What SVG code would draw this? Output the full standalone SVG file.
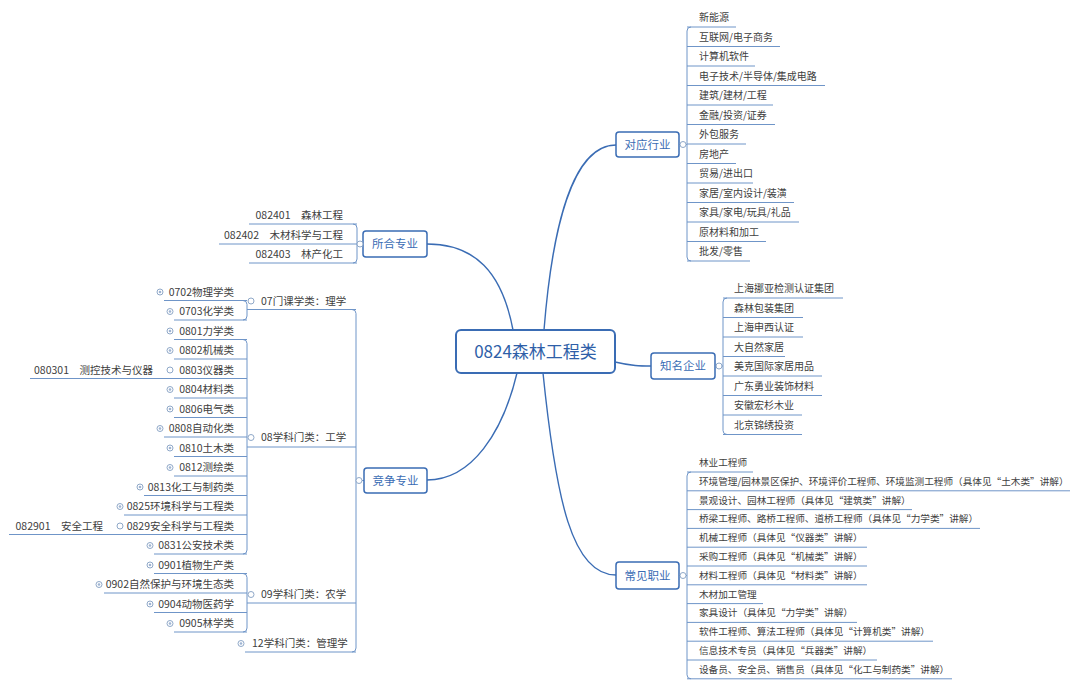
<svg xmlns="http://www.w3.org/2000/svg" width="1080" height="689" viewBox="0 0 1080 689">
<style>
text{font-family:"Microsoft YaHei","Noto Sans CJK SC","Noto Sans",sans-serif;fill:#404040}
.main{fill:none;stroke:#3a6cb4;stroke-width:1.4}
.br{fill:none;stroke:#6f95c8;stroke-width:1}
.box{fill:#fff;stroke:#3a6cb4;stroke-width:1.5}
.cbox{fill:#fff;stroke:#3a6cb4;stroke-width:2}
.bt{font-size:11.5px;fill:#3a6cb4;text-anchor:middle}
.ct{font-size:17px;fill:#2f5fa8;text-anchor:middle}
.r{font-size:10px}
.j{font-size:9.65px}
.l{font-size:10.5px;text-anchor:end}
.p{font-size:10.5px}
.h{fill:#fff;stroke:#8fa8c8;stroke-width:1}
.d{fill:#9fb4d2}
</style>
<defs>
<g id="plus"><circle class="h" r="3"/><circle class="d" r="1.3"/></g>
<g id="open"><circle class="h" r="3"/></g>
</defs>
<rect width="1080" height="689" fill="#fff"/>
<g id="connectors">
<path class="main" d="M427 244C475 244 502 272 513 330"/>
<path class="main" d="M544 330C552 230 572 145 616 145"/>
<path class="main" d="M615 362C632 366 640 366 651 366"/>
<path class="main" d="M517 373C503 432 472 480 427 480"/>
<path class="main" d="M543 373C556 500 572 575 616 575"/>
<path class="br" d="M679 144.5H687M691 27Q687 27 687 31V257Q687 261 691 261"/>
<path class="br" d="M687 27H736M687 46.5H780M687 66H755M687 85.5H825M687 105H773M687 124.5H775M687 144H746M687 163.5H736M687 183H753M687 202.5H794M687 222H799M687 241.5H766M687 261H750"/>
<path class="br" d="M715 366H723M727 298Q723 298 723 302V430.5Q723 434.5 727 434.5"/>
<path class="br" d="M723 298H843M723 317.5H803M723 337H803M723 356.5H785M723 376H822M723 395.5H822M723 415H802M723 434.5H802"/>
<path class="br" d="M679 575.5H687M691 472Q687 472 687 476V674.8Q687 678.8 691 678.8"/>
<path class="br" d="M687 472H753M687 490.8H1070M687 509.6H912M687 528.4H980M687 547.2H867M687 566H867M687 584.8H867M687 603.6H763M687 622.4H857M687 641.2H933M687 660H877M687 678.8H952"/>
<path class="br" d="M363 244H357M353 224Q357 224 357 228V259Q357 263 353 263"/>
<path class="br" d="M357 224H249M357 244H219M357 263H249"/>
<path class="br" d="M364 480.5H356M352 309.5Q356 309.5 356 313.5V648Q356 652 352 652"/>
<path class="br" d="M356 309.5H247M356 447H247M356 603H247M356 652H245"/>
<path class="br" d="M243 300.5Q247 300.5 247 304.5V316Q247 320 243 320"/>
<path class="br" d="M247 300.5H164M247 320H174"/>
<path class="br" d="M243 339.5Q247 339.5 247 343.5V550Q247 554 243 554"/>
<path class="br" d="M247 339.5H174M247 359H174M247 378.5H30M247 398H174M247 417.5H174M247 437H164M247 456.5H174M247 476H174M247 495.5H144M247 515H124M247 534.5H9M247 554H154"/>
<path class="br" d="M243 573.5Q247 573.5 247 577.5V628Q247 632 243 632"/>
<path class="br" d="M247 573.5H154M247 593H104M247 612.5H154M247 632H174"/>
</g>
<g id="n-central"><rect class="cbox" x="456" y="330" width="159" height="43" rx="5"/><text class="ct" x="535.5" y="358">0824森林工程类</text></g>
<g id="n-duiying"><rect class="box" x="616" y="132" width="63" height="25" rx="3"/><text class="bt" x="647.5" y="148.5">对应行业</text><use href="#open" x="683" y="144.5"/></g>
<g id="n-zhiming"><rect class="box" x="651" y="353" width="64" height="26" rx="3"/><text class="bt" x="683" y="370">知名企业</text><use href="#open" x="719" y="366"/></g>
<g id="n-changjian"><rect class="box" x="616" y="562" width="63" height="27" rx="3"/><text class="bt" x="647.5" y="579.5">常见职业</text><use href="#open" x="683" y="575.5"/></g>
<g id="n-suohe"><rect class="box" x="363" y="231" width="64" height="26" rx="3"/><text class="bt" x="395" y="248">所合专业</text><use href="#open" x="360" y="244"/></g>
<g id="n-jingzheng"><rect class="box" x="364" y="468" width="63" height="25" rx="3"/><text class="bt" x="395.5" y="484.5">竞争专业</text><use href="#open" x="359" y="480.5"/></g>
<g id="n-duiying-items">
<text class="r" x="699" y="21">新能源</text>
<text class="r" x="699" y="40.5">互联网/电子商务</text>
<text class="r" x="699" y="60">计算机软件</text>
<text class="r" x="699" y="79.5">电子技术/半导体/集成电路</text>
<text class="r" x="699" y="99">建筑/建材/工程</text>
<text class="r" x="699" y="118.5">金融/投资/证券</text>
<text class="r" x="699" y="138">外包服务</text>
<text class="r" x="699" y="157.5">房地产</text>
<text class="r" x="699" y="177">贸易/进出口</text>
<text class="r" x="699" y="196.5">家居/室内设计/装潢</text>
<text class="r" x="699" y="216">家具/家电/玩具/礼品</text>
<text class="r" x="699" y="235.5">原材料和加工</text>
<text class="r" x="699" y="255">批发/零售</text>
</g>
<g id="n-zhiming-items">
<text class="r" x="734" y="292">上海挪亚检测认证集团</text>
<text class="r" x="734" y="311.5">森林包装集团</text>
<text class="r" x="734" y="331">上海申西认证</text>
<text class="r" x="734" y="350.5">大自然家居</text>
<text class="r" x="734" y="370">美克国际家居用品</text>
<text class="r" x="734" y="389.5">广东勇业装饰材料</text>
<text class="r" x="734" y="409">安徽宏杉木业</text>
<text class="r" x="734" y="428.5">北京锦绣投资</text>
</g>
<g id="n-changjian-items">
<text class="j" x="699" y="466">林业工程师</text>
<text class="j" x="699" y="484.8">环境管理/园林景区保护、环境评价工程师、环境监测工程师（具体见“土木类”讲解）</text>
<text class="j" x="699" y="503.6">景观设计、园林工程师（具体见“建筑类”讲解）</text>
<text class="j" x="699" y="522.4">桥梁工程师、路桥工程师、道桥工程师（具体见“力学类”讲解）</text>
<text class="j" x="699" y="541.2">机械工程师（具体见“仪器类”讲解）</text>
<text class="j" x="699" y="560">采购工程师（具体见“机械类”讲解）</text>
<text class="j" x="699" y="578.8">材料工程师（具体见“材料类”讲解）</text>
<text class="j" x="699" y="597.6">木材加工管理</text>
<text class="j" x="699" y="616.4">家具设计（具体见“力学类”讲解）</text>
<text class="j" x="699" y="635.2">软件工程师、算法工程师（具体见“计算机类”讲解）</text>
<text class="j" x="699" y="654">信息技术专员（具体见“兵器类”讲解）</text>
<text class="j" x="699" y="672.8">设备员、安全员、销售员（具体见“化工与制药类”讲解）</text>
</g>
<g id="n-suohe-items">
<text class="l" x="343" y="219">082401　森林工程</text>
<text class="l" x="343" y="239">082402　木材科学与工程</text>
<text class="l" x="343" y="258">082403　林产化工</text>
</g>
<g id="n-07"><text class="p" x="261" y="304.5">07门课学类：理学</text><use href="#open" x="251" y="301"/></g>
<g id="n-08"><text class="p" x="261" y="441">08学科门类：工学</text><use href="#open" x="251" y="437.5"/></g>
<g id="n-09"><text class="p" x="261" y="598">09学科门类：农学</text><use href="#open" x="251" y="594.5"/></g>
<g id="n-12"><text class="p" x="252" y="647">12学科门类：管理学</text><use href="#plus" x="241" y="643.5"/></g>
<g id="n-07-items">
<text class="l" x="234" y="295.5">0702物理学类</text><use href="#plus" x="160" y="292"/>
<text class="l" x="234" y="315">0703化学类</text><use href="#plus" x="170" y="311.5"/>
</g>
<g id="n-08-items">
<text class="l" x="234" y="334.5">0801力学类</text><use href="#plus" x="170" y="331"/>
<text class="l" x="234" y="354">0802机械类</text><use href="#plus" x="170" y="350.5"/>
<text class="l" x="234" y="373.5">0803仪器类</text><use href="#open" x="170" y="370"/>
<text class="l" x="153" y="373.5">080301　测控技术与仪器</text>
<text class="l" x="234" y="393">0804材料类</text><use href="#plus" x="170" y="389.5"/>
<text class="l" x="234" y="412.5">0806电气类</text><use href="#plus" x="170" y="409"/>
<text class="l" x="234" y="432">0808自动化类</text><use href="#plus" x="160" y="428.5"/>
<text class="l" x="234" y="451.5">0810土木类</text><use href="#plus" x="170" y="448"/>
<text class="l" x="234" y="471">0812测绘类</text><use href="#plus" x="170" y="467.5"/>
<text class="l" x="234" y="490.5">0813化工与制药类</text><use href="#plus" x="140" y="487"/>
<text class="l" x="234" y="510">0825环境科学与工程类</text><use href="#plus" x="120" y="506.5"/>
<text class="l" x="234" y="529.5">0829安全科学与工程类</text><use href="#open" x="120" y="526"/>
<text class="l" x="103" y="529.5">082901　安全工程</text>
<text class="l" x="234" y="549">0831公安技术类</text><use href="#plus" x="150" y="545.5"/>
</g>
<g id="n-09-items">
<text class="l" x="234" y="568.5">0901植物生产类</text><use href="#plus" x="150" y="565"/>
<text class="l" x="234" y="588">0902自然保护与环境生态类</text><use href="#plus" x="99" y="584.5"/>
<text class="l" x="234" y="607.5">0904动物医药学</text><use href="#plus" x="150" y="604"/>
<text class="l" x="234" y="627">0905林学类</text><use href="#plus" x="170" y="623.5"/>
</g>
</svg>
